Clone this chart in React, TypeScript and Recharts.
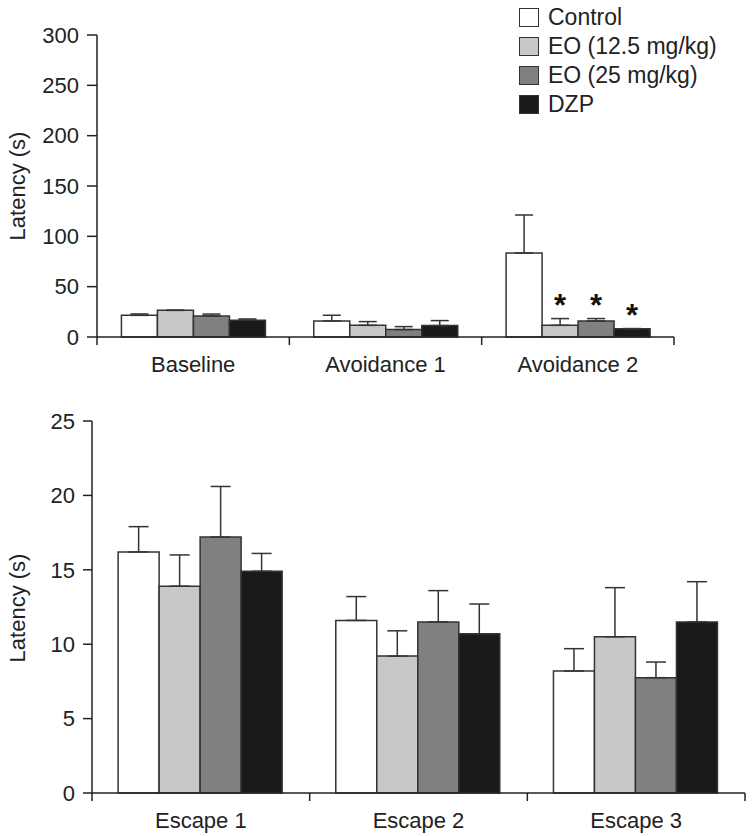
import React from "react";
import { BarChart, Bar, XAxis, YAxis, ErrorBar, LabelList } from "recharts";

// groups and their means / upper SEM
const topGroups = ["Baseline", "Avoidance 1", "Avoidance 2"];
const topControl = [21.5, 15.9, 83.4];
const topControlErr = [1.4, 5.7, 37.8];
const topEo125 = [26.5, 11.6, 11.6];
const topEo125Err = [0, 3.7, 6.7];
const topEo25 = [20.9, 7.4, 15.9];
const topEo25Err = [1.9, 2.9, 2.4];
const topDzp = [16.6, 11.3, 8.3];
const topDzpErr = [1.3, 5.0, 0];
// significance marks per series, per group
const topStars = [
  ["", "", ""],
  ["", "", "*"],
  ["", "", "*"],
  ["", "", "*"],
];

const bottomGroups = ["Escape 1", "Escape 2", "Escape 3"];
const botControl = [16.2, 11.6, 8.2];
const botControlErr = [1.7, 1.6, 1.5];
const botEo125 = [13.9, 9.2, 10.5];
const botEo125Err = [2.1, 1.7, 3.3];
const botEo25 = [17.2, 11.5, 7.75];
const botEo25Err = [3.4, 2.1, 1.05];
const botDzp = [14.9, 10.7, 11.5];
const botDzpErr = [1.2, 2.0, 2.7];

const topTicks = [0, 50, 100, 150, 200, 250, 300];
const bottomTicks = [0, 5, 10, 15, 20, 25];

const seriesNames = ["Control", "EO (12.5 mg/kg)", "EO (25 mg/kg)", "DZP"];
const seriesColors = ["#ffffff", "#c8c8c8", "#808080", "#1a1a1a"];
const keys = ["control", "eo125", "eo25", "dzp"];

const FONT = "'Liberation Sans', Arial, Helvetica, sans-serif";
const INK = "#222";

const topMeans = [topControl, topEo125, topEo25, topDzp];
const topErrs = [topControlErr, topEo125Err, topEo25Err, topDzpErr];
const botMeans = [botControl, botEo125, botEo25, botDzp];
const botErrs = [botControlErr, botEo125Err, botEo25Err, botDzpErr];

const topData = topGroups.map((g, i) => {
  const row: any = { name: g };
  keys.forEach((k, s) => {
    row[k] = topMeans[s][i];
    row[`${k}Err`] = [0, topErrs[s][i]];
    row[`${k}Star`] = topStars[s][i];
  });
  return row;
});

const bottomData = bottomGroups.map((g, i) => {
  const row: any = { name: g };
  keys.forEach((k, s) => {
    row[k] = botMeans[s][i];
    row[`${k}Err`] = [0, botErrs[s][i]];
  });
  return row;
});

// category label at the centre, tick marks on the category borders
const GroupTick = (props: any) => {
  const { x, y, payload, index, visibleTicksCount, width } = props;
  const half =
    payload && payload.offset ? payload.offset : width / visibleTicksCount / 2;
  return (
    <g>
      <line x1={x - half} x2={x - half} y1={y - 8} y2={y} stroke={INK} strokeWidth={1.5} />
      {index === visibleTicksCount - 1 && (
        <line x1={x + half} x2={x + half} y1={y - 8} y2={y} stroke={INK} strokeWidth={1.5} />
      )}
      <text x={x} y={y + 27} textAnchor="middle" fontSize={22} fontFamily={FONT} fill={INK}>
        {payload.value}
      </text>
    </g>
  );
};

const yTitle = (cy: number) => () => (
  <text
    x={17}
    y={cy}
    transform={`rotate(-90, 17, ${cy})`}
    textAnchor="middle"
    dominantBaseline="central"
    fontSize={22}
    fontFamily={FONT}
    fill={INK}
  >
    Latency (s)
  </text>
);

// asterisk sits just above the error bar cap
const makeStar = (s: number) => (p: any) => {
  const { x, y, width, height, value, index } = p;
  if (!value) return null;
  const mean = topMeans[s][index];
  const pxPerUnit = mean ? height / mean : 0;
  const top = y - topErrs[s][index] * pxPerUnit;
  return (
    <text
      x={x + width / 2}
      y={top - 3}
      textAnchor="middle"
      fontSize={31}
      fontWeight="bold"
      fontFamily={FONT}
      fill="#111"
    >
      {value}
    </text>
  );
};

const LegendBox = () => (
  <div style={{ fontFamily: FONT, fontSize: 23, color: INK, lineHeight: 1 }}>
    {seriesNames.map((n, i) => (
      <div key={n} style={{ display: "flex", alignItems: "center", height: 29 }}>
        <div
          style={{
            width: 20,
            height: 19,
            background: seriesColors[i],
            border: "1.5px solid #333",
            boxSizing: "border-box",
            marginRight: 9,
          }}
        />
        <span>{n}</span>
      </div>
    ))}
  </div>
);

const axisStroke = { stroke: INK, strokeWidth: 1.5 };
const tickFont = { fontSize: 22, fontFamily: FONT, fill: INK };

export default function App() {
  return (
    <div style={{ position: "absolute", left: 0, top: 0, width: 752, height: 836, background: "#fff" }}>
      <div style={{ position: "absolute", left: 0, top: 0 }}>
        <BarChart
          width={752}
          height={390}
          data={topData}
          margin={{ top: 35, right: 78, bottom: 3, left: 0 }}
          barCategoryGap="12.7%"
          barGap={0}
        >
          <XAxis
            dataKey="name"
            axisLine={axisStroke}
            tickLine={false}
            tick={<GroupTick />}
            height={50}
            interval={0}
          />
          <YAxis
            width={97}
            domain={[0, 300]}
            ticks={topTicks}
            interval={0}
            axisLine={axisStroke}
            tickLine={axisStroke}
            tickSize={10}
            tickMargin={8}
            tick={tickFont}
            label={{ content: yTitle(186) }}
          />
          {keys.map((k, i) => (
            <Bar
              key={k}
              dataKey={k}
              name={seriesNames[i]}
              fill={seriesColors[i]}
              stroke="#333"
              strokeWidth={1.5}
              isAnimationActive={false}
            >
              <ErrorBar dataKey={`${k}Err`} width={9} stroke="#333" strokeWidth={1.5} direction="y" />
              <LabelList dataKey={`${k}Star`} content={makeStar(i)} />
            </Bar>
          ))}
        </BarChart>
      </div>
      <div style={{ position: "absolute", left: 519, top: 3, width: 230 }}>
        <LegendBox />
      </div>
      <div style={{ position: "absolute", left: 0, top: 400 }}>
        <BarChart
          width={752}
          height={436}
          data={bottomData}
          margin={{ top: 21, right: 7, bottom: 0, left: 0 }}
          barCategoryGap="12%"
          barGap={0}
        >
          <XAxis
            dataKey="name"
            axisLine={axisStroke}
            tickLine={false}
            tick={<GroupTick />}
            height={43}
            interval={0}
          />
          <YAxis
            width={92}
            domain={[0, 25]}
            ticks={bottomTicks}
            interval={0}
            axisLine={axisStroke}
            tickLine={axisStroke}
            tickSize={9}
            tickMargin={8}
            tick={tickFont}
            label={{ content: yTitle(208) }}
          />
          {keys.map((k, i) => (
            <Bar
              key={k}
              dataKey={k}
              name={seriesNames[i]}
              fill={seriesColors[i]}
              stroke="#333"
              strokeWidth={1.5}
              isAnimationActive={false}
            >
              <ErrorBar dataKey={`${k}Err`} width={10} stroke="#333" strokeWidth={1.5} direction="y" />
            </Bar>
          ))}
        </BarChart>
      </div>
    </div>
  );
}
